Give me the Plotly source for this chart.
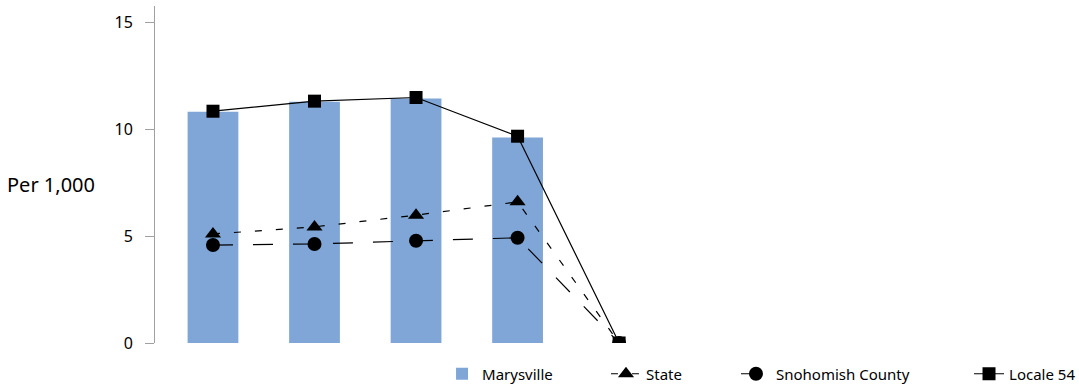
import plotly.graph_objs as go

# five reporting periods (x labels are not shown on the chart)
periods = [1, 2, 3, 4, 5]

marysville = [10.81, 11.28, 11.43, 9.61]
state = [5.1, 5.43, 5.98, 6.6, 0]
snohomish = [4.58, 4.63, 4.78, 4.92, 0]
locale54 = [10.84, 11.31, 11.48, 9.67, 0]

bar_color = '#7fa6d7'
font = 'Noto Sans, Liberation Sans, sans-serif'

traces = [
    go.Bar(
        x=periods[:len(marysville)], y=marysville, name='Marysville',
        marker=dict(color=bar_color, line=dict(width=0)), width=0.5,
        legend='legend',
    ),
    go.Scatter(
        x=periods, y=state, name='State', mode='lines+markers',
        line=dict(color='black', width=1.2, dash='7px,14px'),
        marker=dict(symbol='triangle-up', size=14, color='black'),
        legend='legend2',
    ),
    go.Scatter(
        x=periods, y=snohomish, name='Snohomish County', mode='lines+markers',
        line=dict(color='black', width=1.2, dash='20px,20px'),
        marker=dict(symbol='circle', size=14, color='black'),
        legend='legend3',
    ),
    go.Scatter(
        x=periods, y=locale54, name='Locale 54', mode='lines+markers',
        line=dict(color='black', width=1.2),
        marker=dict(symbol='square', size=13, color='black'),
        legend='legend4',
    ),
]


def leg(x):
    return dict(
        orientation='h', x=x, xanchor='left', y=-0.092, yanchor='middle',
        font=dict(size=15), bgcolor='rgba(0,0,0,0)',
    )


layout = go.Layout(
    width=1079, height=386,
    margin=dict(l=155, r=4, t=6, b=43, autoexpand=False),
    paper_bgcolor='white', plot_bgcolor='white',
    font=dict(family=font, size=15, color='black'),
    xaxis=dict(range=[0.429, 9.49], visible=False, showgrid=False, zeroline=False),
    yaxis=dict(
        range=[0, 15.76], tickvals=[0, 5, 10, 15],
        showgrid=False, zeroline=False,
        showline=True, linecolor='#a0a0a0', linewidth=1,
        ticks='outside', ticklen=9, tickcolor='#a0a0a0', ticklabelstandoff=9,
        tickfont=dict(size=16),
    ),
    showlegend=True,
    legend=leg(0.312),
    legend2=leg(0.4902),
    legend3=leg(0.6315),
    legend4=leg(0.8848),
    annotations=[dict(
        text='Per 1,000', xref='paper', yref='paper', x=-0.163, y=0.47,
        xanchor='left', yanchor='middle', showarrow=False,
        font=dict(size=20),
    )],
)

fig = go.Figure(data=traces, layout=layout)
fig.write_html("out.html", config={'displayModeBar': False},
               post_script="document.body.style.margin='0';")
